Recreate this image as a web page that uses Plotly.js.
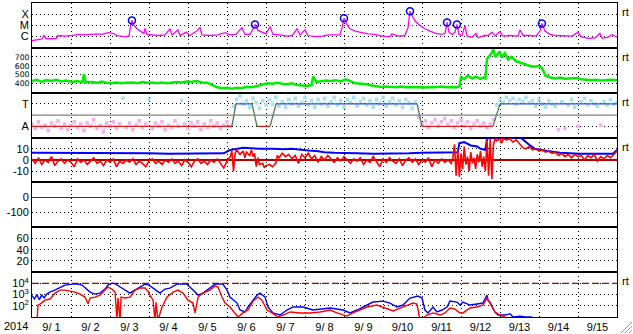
<!DOCTYPE html>
<html>
<head>
<meta charset="utf-8">
<script src="https://cdn.plot.ly/plotly-3.0.1.min.js"></script>
<style>html,body{margin:0;padding:0;background:#fff;}#chart{width:633px;height:334px;}</style>
</head>
<body>
<div id="chart"></div>
<script>
// ---------- DATA (hours since 2014-09-01 00:00 UT) ----------
const yearLabel = "2014";
const dayLabels = ["9/ 1","9/ 2","9/ 3","9/ 4","9/ 5","9/ 6","9/ 7","9/ 8","9/ 9","9/10","9/11","9/12","9/13","9/14","9/15"];

// GOES X-ray flux (log10 W/m2)
const xrayHours = [0,3.7,6.2,7.4,8.6,12.3,14.8,16,20.3,24.6,
28.3,32.6,35.7,39.4,43.1,46.8,49.8,52.3,56.6,59.7,
60.9,61.5,62.8,64.6,67.1,68.9,69.5,70.8,73.8,77.5,
81.8,84.9,86.2,89.8,91.1,94.8,97.2,100.9,103.4,104.6,
109.5,114.5,118.8,121.8,125.5,129.2,131.1,134.2,136,137.2,
139.1,141.5,144,146.5,148.3,152.6,156.9,160,163.1,164.9,
168,169.8,174.2,178.5,182.2,185.2,189.5,190.8,192,193.8,
195.7,198.8,201.8,206.8,211.1,215.4,220.3,221.5,225.2,229.5,
231.4,232.6,234.5,236.3,238.8,241.8,244.9,248.6,252.3,254.2,
255.4,256.6,258.5,260.3,261.5,262.8,264.6,266.5,267.7,270.8,
273.2,274.5,278.2,280.6,283.1,284.9,288,289.8,294.2,299.1,
300.3,302.2,306.5,310.2,312.6,313.8,315.7,318.8,322.5,328,
332.3,336,337.8,342.2,346.5,349.5,350.8,354.5,357,360];
const xrayLog = [-6.36,-6.3,-6.2,-5.85,-6.2,-6.15,-6.2,-5.9,-5.95,-5.9,
-5.8,-5.85,-5.8,-5.75,-5.8,-5.65,-5.7,-5.9,-6.0,-5.95,
-4.8,-4.55,-5.0,-5.3,-5.55,-5.7,-5.27,-5.8,-5.85,-5.9,
-5.85,-5.3,-5.85,-5.4,-5.9,-5.6,-5.9,-5.55,-5.2,-5.85,
-5.9,-5.85,-5.65,-5.85,-5.8,-5.2,-5.8,-5.8,-5.3,-4.91,
-5.45,-5.6,-5.75,-5.1,-5.8,-5.85,-5.95,-5.9,-5.3,-5.85,
-5.4,-5.9,-6.0,-5.95,-5.85,-5.85,-5.85,-5.2,-4.36,-4.9,
-5.3,-5.5,-5.6,-5.75,-5.8,-5.95,-6.0,-5.75,-5.95,-5.9,
-5.2,-3.73,-4.3,-4.7,-5.0,-5.3,-5.5,-5.7,-5.8,-5.7,
-4.73,-5.6,-5.8,-5.6,-4.91,-5.8,-5.9,-5.0,-5.95,-6.05,
-5.7,-6.1,-5.9,-5.9,-5.6,-5.95,-5.55,-5.95,-5.9,-5.95,
-5.4,-5.9,-5.9,-5.95,-5.5,-4.82,-5.5,-5.8,-5.9,-5.95,
-5.95,-5.6,-6.0,-6.15,-6.1,-5.7,-6.15,-6.05,-5.8,-6.05];
const flareHours = [61.5,137.2,192,232.6,255.4,261.5,313.8];
const flareLog = [-4.55,-4.91,-4.36,-3.73,-4.73,-4.91,-4.82];

// Solar wind speed (km/s)
const speedHours = [0,3,6,9,12,15,18,21,25,28,
31,32,33,37,40,43,46,49,52,55,
58,62,65,68,71,74,77,80,83,86,
89,92,95,98,101,105,108,111,114,117,
120,123,126,129,132,135,138,142,145,148,
151,154,157,160,163,166,169,172,173,175,
178,181,184,187,190,193,196,199,203,206,
209,212,215,218,221,224,227,230,233,236,
239,242,245,248,252,255,258,261,263,264,
266,268,271,273,276,278,279,280,282,284,
285,288,289,291,293,295,298,300,303,306,
309,312,314,316,319,322,325,328,331,335,
338,341,344,347,350,353,356,360];
const speedVals = [430,445,420,440,430,445,425,435,420,430,
415,510,415,420,410,425,410,405,415,405,
410,415,405,420,410,415,405,415,405,410,
420,415,425,420,430,415,410,385,360,350,
355,345,355,350,365,360,375,395,405,400,
410,400,395,405,385,380,375,385,480,420,
430,435,430,440,425,450,430,405,400,395,
380,370,365,370,365,360,368,362,365,360,
365,358,365,360,368,360,365,362,370,470,
450,490,460,480,455,470,460,680,720,780,
700,760,690,740,670,700,650,640,620,600,
590,600,570,490,470,460,470,455,460,465,
450,445,440,445,435,440,445,440];

// IMF sector (1 = Away, 3 = Toward), 2-hourly angle samples
const phiStepHours = 2;
const phiVals = [1.2,0.8,1.4,0.9,1.1,0.6,1.3,1.0,1.5,0.8,
1.2,0.7,1.1,1.4,0.9,1.2,0.6,1.3,1.0,1.6,
0.8,1.1,0.5,1.3,1.0,1.4,0.8,1.2,3.5,0.9,
1.3,0.7,1.1,1.5,0.9,1.2,3.4,0.8,1.3,1.0,
1.4,0.7,1.1,0.9,1.5,1.0,3.3,1.2,0.8,1.3,
1.0,1.4,0.7,1.2,0.9,1.5,1.0,1.3,0.8,1.1,
1.4,1.0,
2.8,3.4,3.7,3.0,3.3,2.7,3.5,3.1,2.6,3.3,
2.9,3.4,3.0,3.6,2.8,3.2,2.7,3.4,3.0,3.5,
2.8,3.1,3.6,2.9,3.3,2.7,3.4,3.0,3.5,2.8,
3.2,3.6,2.9,3.3,2.7,3.4,3.1,3.6,2.8,3.2,
3.5,2.9,3.3,2.7,3.4,3.0,3.6,2.8,3.2,3.5,
2.9,3.3,2.7,3.4,3.1,2.6,3.2,
1.8,1.2,1.5,0.9,1.3,1.6,1.0,1.4,1.7,1.1,
1.5,0.9,1.3,1.6,1.0,1.4,0.8,1.2,1.5,1.0,
1.3,0.9,1.2,1.6,2.9,
3.4,3.1,3.6,3.3,3.5,3.0,3.4,3.2,3.6,3.1,
3.3,2.8,3.4,3.0,2.7,3.3,3.0,2.8,0.7,3.2,
0.8,2.9,3.4,2.7,1.0,3.2,3.5,2.9,3.3,3.0,
2.8,1.1,3.2,2.9,3.4,3.0,3.1];
const sectorHours = [0,123,125.5,135.4,138.5,146.5,150.2,237,240,283.7,288,360];
const sectorVals = [1,1,3,3,1,1,3,3,1,1,3,3];

// IMF Bt and Bz (nT)
const btHours = [0,12,24,36,48,60,72,84,96,108,
118,122,126,130,135,140,148,155,160,165,
170,175,180,186,192,200,210,220,232,240,
250,259,262,263,266,270,274,276,279,280,
282,300,301.5,306.5,309.5,317,325,337,350,357.5,360];
const btVals = [6.5,6.5,6,6,6,6.5,6,5.5,5.5,6,
6,9,10,11,10.5,10,10,9.5,10,9,
8.5,8,7,6.5,6,6,5.5,5.5,6,6.5,
6.5,6.5,7,15,16,13,12,10,9,19,
20,20,19,13,10,8,6.5,5.5,5.5,5.5,9];
const bzHours = [0,2,4,6,8,10,12,14,16,18,
20,22,24,26,28,30,32,34,36,38,
40,42,44,46,48,50,52,54,56,58,
60,62,64,66,68,70,72,74,76,78,
80,82,84,86,88,90,92,94,96,98,
100,102,104,106,108,110,112,114,116,118,
120,122,123,124,125,126,128,130,131,132,
134,135,136,137,138,139,140,142,143,144,
146,148,150,151,152,154,156,158,160,162,
164,166,168,170,172,174,176,178,180,182,
184,186,188,190,192,194,196,198,200,202,
204,206,208,210,212,214,216,218,220,222,
224,226,228,230,232,234,236,238,240,242,
244,246,248,250,252,254,256,258,259,260,
261,262,263,264,265,266,267,268,269,270,
271,272,273,274,275,276,277,278,279,280,
281,282,283,284,285,286,288,289,290,292,
294,296,298,300,302,304,306,308,310,312,
314,316,318,320,322,324,326,328,330,332,
334,336,338,340,342,344,346,348,350,352,
354,356,358,360];
const bzVals = [1,-3,2,-4,0,-2,3,-5,-1,1,
-3,0,-2,-6,1,-2,0,-4,-1,2,
-3,-1,-5,0,-2,1,-6,-1,-3,0,
-2,1,-4,-1,-3,-6,-1,1,-3,-1,
-4,0,-2,1,-3,-1,-5,0,-2,-6,
-1,1,-3,-1,-4,0,-2,1,-3,-7,
-1,3,8,-10,6,9,5,8,2,7,
4,9,3,6,-6,2,-4,-3,-7,-5,
-4,-6,-3,4,2,6,3,5,1,4,
-3,5,2,6,1,4,-2,3,0,4,
1,-2,2,-1,3,0,-3,1,-1,2,
-4,0,-2,3,-1,-6,1,-2,2,-1,
-3,1,-5,0,2,-2,1,-4,0,-2,
2,-6,0,-3,1,-2,0,-3,2,14,
-14,9,-15,6,-8,12,-4,3,-10,7,
-3,2,-8,5,-2,8,-6,3,-10,18,
-14,19,-17,14,19,17,19,15,19,18,
19,16,18,14,11,10,12,9,10,8,
9,7,8,6,7,4,6,3,5,2,
5,3,4,0,4,2,5,-1,3,1,
4,2,5,8];

// Electron flux (blue: lower energy, red: higher energy)
const elecAlert = 10000;
const eBlueHours = [0,1.5,3,4.5,6,7.5,9,11,14,18.5,
20.3,24.6,28.3,30.8,32.6,35.7,38.8,41.8,44.9,46.8,
49.2,51.7,54.2,57.2,60.3,62.2,64.6,67.1,69.5,72,
74.5,76.9,78.8,81.8,84.9,89.2,95.4,99.1,102.2,105.2,
109.5,112.6,117.5,120,121.8,126.2,128,131.1,132.9,136,
138.5,140.3,143.4,145.2,148.3,152.6,156.9,160.6,166.8,172.9,
179.1,183.4,191.4,195.7,200,203.7,209.8,216,220.3,224.6,
228.3,232.6,237.5,240,241.8,243.7,246.8,249.2,252.3,255.4,
257.2,261.5,263.4,265.2,269.5,273.9,277.5,280,280.6,281.8,
284.9,286.8,291.1,294.2,296,300.3,303.4,307.7];
const eBlueVals = [800,400,1000,350,900,500,1100,1650,2500,4700,
7000,8500,8500,7000,3800,1650,1100,1350,3100,7000,
10500,8500,4700,2500,1350,2000,3100,5700,8500,7000,
3800,2000,1350,3100,3800,8500,8500,2500,900,1350,
3800,8500,8500,2500,600,175,42,28,78,320,
900,1350,600,78,23,15,42,78,78,42,
50,63,42,23,42,78,215,260,175,78,
117,490,740,490,42,23,78,28,42,78,
260,215,117,215,117,145,175,900,320,215,
28,15,15,19,10,12,10,10];
const eRedHours = [0,3.1,3.7,4.9,8,11.1,14.2,17.2,20.3,23.4,
26.5,29.5,32.6,34.5,35.7,38.8,41.8,44.9,46.8,49.2,
51.1,52.3,52.9,54.2,54.8,57.2,60.3,63.4,66.5,69.5,
71.4,72.6,74.5,75.7,76.3,77.5,80,83.1,86.8,89.8,
92.9,96,99.1,100.3,102.2,105.2,109.5,112.6,114.5,116.9,
118.8,121.8,124.9,126.8,129.8,132.9,136,139.1,141.5,144.6,
147.7,151.4,154.5,158.8,164.9,171.1,177.2,183.4,187.7,193.8,
197.5,201.8,206.2,212.3,218.5,222.2,226.5,230.8,234.5,236.9,
237.5,238.8,243.1,246.8,251.1,254.2,257.2,260.3,263.4,265.2,
269.5,273.9,277.5,280,281.8,284.9,288,291.1];
const eRedVals = [5,5,120,140,320,400,1350,2500,2500,2000,
1650,1100,600,150,490,600,900,2500,4700,3100,
1650,5,490,5,600,490,600,2500,3800,3800,
2000,900,320,5,200,5,78,600,1650,2500,
1350,320,175,23,600,1350,2500,6000,4700,600,
175,78,23,10,23,42,260,600,320,42,
23,10,15,28,23,23,28,42,23,12,
23,42,78,117,50,35,63,117,175,145,
42,5,15,23,15,23,63,50,23,23,
63,78,117,490,175,28,15,10];

// ---------- BUILD ----------
const FONT = {family:'Liberation Sans, Arial, sans-serif', size:11, color:'#000'};
const FONT_SMALL = {family:'DejaVu Sans, Liberation Sans, sans-serif', size:7.7, color:'#000'};
const NP = 7;
const dom = k => [1-(k+1)/NP, 1-k/NP];

const phiHours = phiVals.map((v,i)=>i*phiStepHours);
const towardY = phiVals.map(v => v >= 2 ? v : null);
const awayY = phiVals.map(v => v < 2 ? v : null);

// sector line split into colored pieces
const secA = {x:[],y:[]}, secT = {x:[],y:[]}, secG = {x:[],y:[]};
for (let i=0;i<sectorHours.length-1;i++){
  const a=sectorVals[i], b=sectorVals[i+1];
  const tgt = (a!==b) ? secG : (a===1 ? secA : secT);
  tgt.x.push(sectorHours[i], sectorHours[i+1], null);
  tgt.y.push(a, b, null);
}

const traces = [
  {x:xrayHours, y:xrayLog, yaxis:'y', mode:'lines', line:{color:'#ff00ff', width:1.3}},
  {x:flareHours, y:flareLog, yaxis:'y', mode:'markers', marker:{symbol:'circle-open', size:7, color:'#0000ff', line:{width:1.5}}},
  {x:speedHours, y:speedVals, yaxis:'y2', mode:'lines', line:{color:'#00ee00', width:2.5}},
  {x:phiHours, y:awayY, yaxis:'y3', mode:'lines+markers', connectgaps:false, line:{color:'#f8c4f4', width:1}, marker:{symbol:'square', size:3.5, color:'#f4b0ee'}},
  {x:phiHours, y:towardY, yaxis:'y3', mode:'lines+markers', connectgaps:false, line:{color:'#c0ecf8', width:1}, marker:{symbol:'square', size:3.5, color:'#a8e0f2'}},
  {x:secA.x, y:secA.y, yaxis:'y3', mode:'lines', line:{color:'#e02020', width:1.3}},
  {x:secT.x, y:secT.y, yaxis:'y3', mode:'lines', line:{color:'#3050e0', width:1.3}},
  {x:secG.x, y:secG.y, yaxis:'y3', mode:'lines', line:{color:'#4a7a4a', width:1.3}},
  {x:btHours, y:btVals, yaxis:'y4', mode:'lines', line:{color:'#0000ff', width:2}},
  {x:bzHours, y:bzVals, yaxis:'y4', mode:'lines', line:{color:'#ff0000', width:1.6}},
  {x:[0,360], y:[null,null], yaxis:'y5', mode:'lines'},
  {x:[0,360], y:[null,null], yaxis:'y6', mode:'lines'},
  {x:[0,360], y:[elecAlert, elecAlert], yaxis:'y7', mode:'lines', line:{color:'#b00000', width:1.3, dash:'7px,3px'}},
  {x:eBlueHours, y:eBlueVals, yaxis:'y7', mode:'lines', line:{color:'#0000ff', width:1.4}},
  {x:eRedHours, y:eRedVals, yaxis:'y7', mode:'lines', line:{color:'#ff0000', width:1.4}}
];

const yBase = () => ({showline:true, mirror:true, linecolor:'#000', linewidth:1, ticks:'',
  showgrid:true, gridcolor:'#000', griddash:'1px,3px', gridwidth:1, zeroline:false,
  tickfont:FONT, fixedrange:true, anchor:'x', tickmode:'array'});

const layout = {
  width:633, height:334, margin:{l:32, r:16, t:3, b:17, pad:0},
  paper_bgcolor:'#fff', plot_bgcolor:'#fff', showlegend:false, hovermode:false,
  xaxis:{range:[0,360], anchor:'y7', showline:true, mirror:'all', linecolor:'#000', linewidth:1,
    tickmode:'array', tickvals:dayLabels.map((d,i)=>i*24+12), ticktext:dayLabels, ticks:'',
    showgrid:false, zeroline:false, tickfont:FONT, fixedrange:true,
    minor:{tickmode:'linear', tick0:0, dtick:24, showgrid:true, gridcolor:'#000', griddash:'1px,3px', gridwidth:1, ticks:''}},
  yaxis: Object.assign(yBase(), {domain:dom(0), range:[-7,-3], tickvals:[-6,-5,-4], ticktext:['C','M','X']}),
  yaxis2: Object.assign(yBase(), {domain:dom(1), range:[300,800], tickvals:[400,500,600,700], tickfont:FONT_SMALL}),
  yaxis3: Object.assign(yBase(), {domain:dom(2), range:[0,4], tickvals:[1,3], ticktext:['A','T']}),
  yaxis4: Object.assign(yBase(), {domain:dom(3), range:[-20,20], tickvals:[-10,0,10], ticktext:['-10','0','10'], zeroline:true, zerolinecolor:'#b00000', zerolinewidth:1.3}),
  yaxis5: Object.assign(yBase(), {domain:dom(4), range:[-200,100], tickvals:[-100,0], ticktext:['-100','0'], zeroline:true, zerolinecolor:'#b00000', zerolinewidth:1.3}),
  yaxis6: Object.assign(yBase(), {domain:dom(5), range:[0,80], tickvals:[20,40,60]}),
  yaxis7: Object.assign(yBase(), {domain:dom(6), type:'log', range:[1,5], tickvals:[100,1000,10000], ticktext:['10<sup>2</sup>','10<sup>3</sup>','10<sup>4</sup>']}),
  shapes:[
    {type:'line', xref:'x domain', x0:0, x1:1, yref:'y3', y0:2, y1:2, line:{color:'#808080', width:1.3}, layer:'above'}
  ],
  annotations:[]
};

// year label under the axis
layout.annotations.push({text:yearLabel, xref:'paper', yref:'paper', x:-0.027, y:-0.03, xanchor:'center', yanchor:'middle', showarrow:false, font:FONT});
// "rt" markers at the right of panels 1,2,3,4,7
[0,1,2,3,6].forEach(k=>{
  layout.annotations.push({text:'rt', xref:'paper', yref:'paper', x:1.005, y:dom(k)[1]-9/314,
    xanchor:'left', yanchor:'middle', showarrow:false, font:FONT});
});
// window resize grip
[[621,333,632,322],[625,333,632,326],[629,333,632,330]].forEach(p=>{
  layout.shapes.push({type:'line', xref:'paper', yref:'paper', x0:(p[0]-32)/585, x1:(p[2]-32)/585,
    y0:(317-p[1])/314, y1:(317-p[3])/314, line:{color:'#999', width:1}});
});

Plotly.newPlot('chart', traces, layout, {staticPlot:true, displayModeBar:false});
</script>
</body>
</html>
